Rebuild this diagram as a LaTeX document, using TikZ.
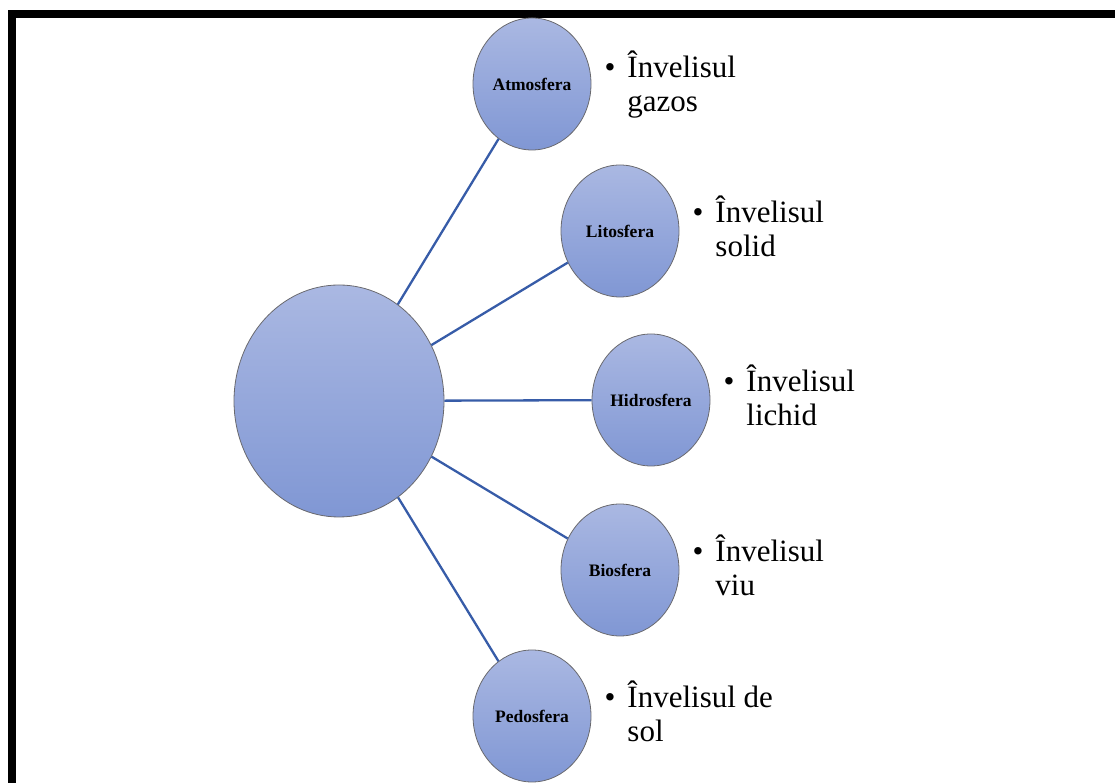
\documentclass[tikz,border=0pt]{standalone}
\usepackage{fontspec}
\setmainfont{Liberation Serif}
\usetikzlibrary{positioning,shapes.geometric}
\definecolor{circtop}{RGB}{170,184,226}
\definecolor{circbot}{RGB}{128,151,212}
\definecolor{linkblue}{RGB}{55,92,168}
\definecolor{rimgray}{RGB}{105,105,110}
\tikzset{
  sphere/.style={ellipse, draw=rimgray, line width=0.8pt, top color=circtop, bottom color=circbot,
    minimum width=118pt, minimum height=132pt, inner sep=0pt,
    font=\fontsize{17.5}{20}\selectfont\bfseries},
  link/.style={draw=linkblue, line width=2.3pt},
  item/.style={inner sep=0pt, anchor=west, font=\fontsize{31}{34}\selectfont}
}
\newcommand{\bul}[2]{\begin{tabular}{@{}l@{\hspace{12pt}}l@{}}\textbullet & #1\\ & #2\end{tabular}}
\begin{document}
\begin{tikzpicture}[x=1pt, y=1pt]
\useasboundingbox (0,0) rectangle (1115,783);
\fill[black] (8,765) rectangle (1115,773);
\fill[black] (8,0) rectangle (16,773);
  \node[sphere, minimum width=210pt, minimum height=232pt] (earth) at (339,382) {};
  \node[sphere] (atmo) at (532,699) {Atmosfera};
  \node[sphere] (lito) at (620,552) {Litosfera};
  \node[sphere] (hidro) at (651,383) {Hidrosfera};
  \node[sphere] (bio) at (620,213) {Biosfera};
  \node[sphere] (pedo) at (532,67) {Pedosfera};
\foreach \s in {atmo,lito,hidro,bio,pedo}
  \draw[link] (earth) -- (\s);
  \node[item, right=13pt of atmo, yshift=-2pt] (atmotxt) {\bul{Învelisul}{gazos}};
  \node[item, right=13pt of lito] (litotxt) {\bul{Învelisul}{solid}};
  \node[item, right=13pt of hidro] (hidrotxt) {\bul{Învelisul}{lichid}};
  \node[item, right=13pt of bio] (biotxt) {\bul{Învelisul}{viu}};
  \node[item, right=13pt of pedo] (pedotxt) {\bul{Învelisul de}{sol}};
\end{tikzpicture}
\end{document}
